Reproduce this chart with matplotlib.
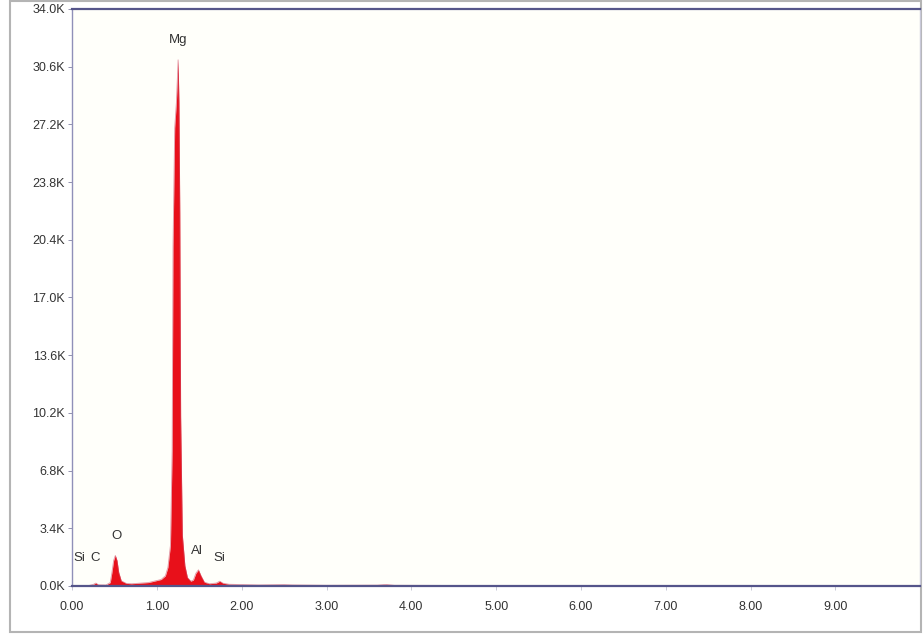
#!/usr/bin/env python3
"""EDS spectrum (Mg-rich sample) — counts vs energy with element labels."""
import matplotlib.pyplot as plt
from matplotlib.patches import Rectangle

plt.rcParams['font.family'] = ['Liberation Sans Narrow', 'Liberation Sans', 'DejaVu Sans']

# spectrum outline (keV, counts)
energy = [0.00, 0.20, 0.25, 0.28, 0.31, 0.40, 0.45, 0.47, 0.49, 0.51, 0.53, 0.55, 0.58,
          0.64, 0.70, 0.90, 1.05, 1.10, 1.13, 1.16, 1.18, 1.19, 1.21, 1.23, 1.25,
          1.26, 1.27, 1.28, 1.30, 1.33, 1.36, 1.40, 1.43, 1.46, 1.49, 1.52, 1.56,
          1.62, 1.70, 1.74, 1.78, 1.85, 2.20, 2.50, 2.60, 3.00, 3.60, 3.70, 3.80,
          4.50, 6.00, 8.00, 9.90]
counts = [0, 30, 90, 170, 70, 60, 200, 800, 1500, 1800, 1500, 800, 300,
          150, 130, 200, 380, 600, 1100, 2400, 8000, 20000, 27000, 28500, 31000,
          28500, 22000, 10000, 3000, 1200, 500, 280, 350, 750, 950, 600, 220,
          130, 170, 280, 160, 100, 60, 80, 60, 40, 50, 90, 40,
          30, 20, 10, 10]

# element labels: (text, energy, y position in counts)
labels = ["Si", "C", "O", "Mg", "Al", "Si"]
label_x = [0.09, 0.27, 0.52, 1.25, 1.47, 1.74]
label_y = [1300, 1300, 2600, 31800, 1700, 1300]

yticks = [i * 3400 for i in range(11)]
ytick_labels = [f"{v / 1000:.1f}K" for v in yticks]
xticks = list(range(10))
xtick_labels = [f"{v:.2f}" for v in xticks]

fig = plt.figure(figsize=(9.24, 6.39), dpi=100, facecolor="white")
ax = fig.add_axes([0.078, 0.083, 0.918, 0.903])
ax.set_facecolor("#fffffa")

ax.fill_between(energy, counts, 0, color="#e8101a", lw=0)
ax.plot(energy, counts, color="#d0506a", lw=0.6, alpha=0.6)

for t, x, y in zip(labels, label_x, label_y):
    ax.text(x, y, t, ha="center", va="bottom", fontsize=9.5, color="#333333")

ax.set_xlim(0, 10)
ax.set_ylim(0, 34000)
ax.set_xticks(xticks)
ax.set_xticklabels(xtick_labels)
ax.set_yticks(yticks)
ax.set_yticklabels(ytick_labels)
ax.tick_params(labelsize=9, colors="#333333", length=3, width=0.6)
ax.tick_params(axis="x", color="#c0c0d0", pad=8)
ax.tick_params(axis="y", color="#8080a0", pad=2)

for s in ("bottom", "top"):
    ax.spines[s].set_color("#55558a")
    ax.spines[s].set_linewidth(1.6)
ax.spines["left"].set_color("#9090b8")
ax.spines["left"].set_linewidth(1.0)
ax.spines["right"].set_color("#c8c8d8")
ax.spines["right"].set_linewidth(1.0)

# light grey outer frame around the whole panel
fig.patches.append(Rectangle((10 / 924, 7 / 639), 911 / 924, 631 / 639,
                             transform=fig.transFigure, fill=False,
                             edgecolor="#b4b4b4", lw=1.5, zorder=-1))

fig.savefig("out.png", dpi=100, facecolor="white")
